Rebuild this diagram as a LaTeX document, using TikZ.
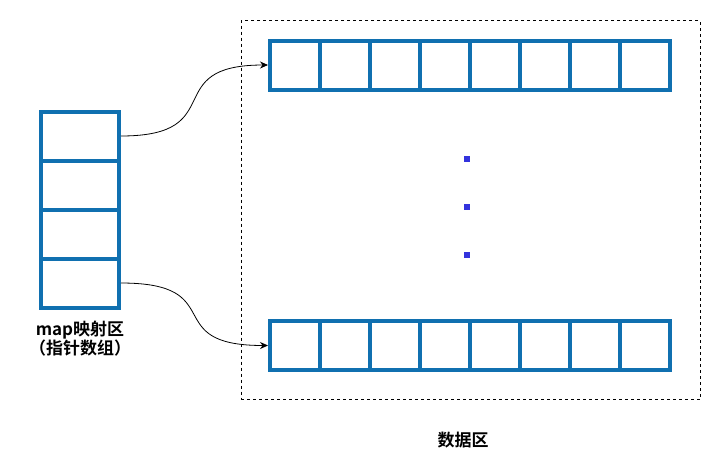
\documentclass[tikz,border=0pt]{standalone}
\usepackage{fontspec}
\setmainfont{Noto Sans CJK SC}[BoldFont={Noto Sans CJK SC Bold}]
\usetikzlibrary{arrows.meta}
\definecolor{cellblue}{RGB}{16,112,176}
\definecolor{dotblue}{RGB}{51,51,221}

\begin{document}
\begin{tikzpicture}[x=1pt, y=-1pt,
        cell/.style={draw=cellblue, line width=4pt, inner sep=0pt, minimum width=50pt, minimum height=49pt},
        mapcell/.style={cell, minimum width=78pt},
        dotmark/.style={fill=dotblue, inner sep=0pt, minimum size=6pt},
        link/.style={draw=black, line width=0.8pt, -{Stealth[length=8pt,width=7pt]}},
        lbl/.style={font=\bfseries\fontsize{17}{19}\selectfont, align=center}]
        \useasboundingbox (0,0) rectangle (722,472);

        % data region
        \node[draw, line width=0.8pt, dash pattern=on 3pt off 3pt, inner sep=0pt,
              minimum width=459pt, minimum height=379pt] (data) at (470.5, 210) {};
        \node[lbl] (datalbl) at (463, 440) {数据区};

        % map region (pointer array)
        \node[mapcell] (m1) at (80, 136) {};    \node[mapcell] (m2) at (80, 185) {};
        \node[mapcell] (m3) at (80, 234) {};    \node[mapcell] (m4) at (80, 283) {};
        \node[lbl] (maplbl) at (80, 339) {map映射区\\（指针数组）};

        % first buffer
        \node[cell] (t1) at (295, 65) {};   \node[cell] (t2) at (345, 65) {};
        \node[cell] (t3) at (395, 65) {};   \node[cell] (t4) at (445, 65) {};
        \node[cell] (t5) at (495, 65) {};   \node[cell] (t6) at (545, 65) {};
        \node[cell] (t7) at (595, 65) {};   \node[cell] (t8) at (645, 65) {};

        % last buffer
        \node[cell] (b1) at (295, 345.5) {};   \node[cell] (b2) at (345, 345.5) {};
        \node[cell] (b3) at (395, 345.5) {};   \node[cell] (b4) at (445, 345.5) {};
        \node[cell] (b5) at (495, 345.5) {};   \node[cell] (b6) at (545, 345.5) {};
        \node[cell] (b7) at (595, 345.5) {};   \node[cell] (b8) at (645, 345.5) {};

        % dots between
        \node[dotmark] (d1) at (466.5, 158.5) {};
        \node[dotmark] (d2) at (466.5, 206.5) {};
        \node[dotmark] (d3) at (466.5, 254.5) {};

        % pointers
        \draw[link] (m1.east) .. controls +(110,0) and +(-110,0) .. (t1.west);
        \draw[link] (m4.east) .. controls +(110,0) and +(-110,0) .. (b1.west);
\end{tikzpicture}
\end{document}
